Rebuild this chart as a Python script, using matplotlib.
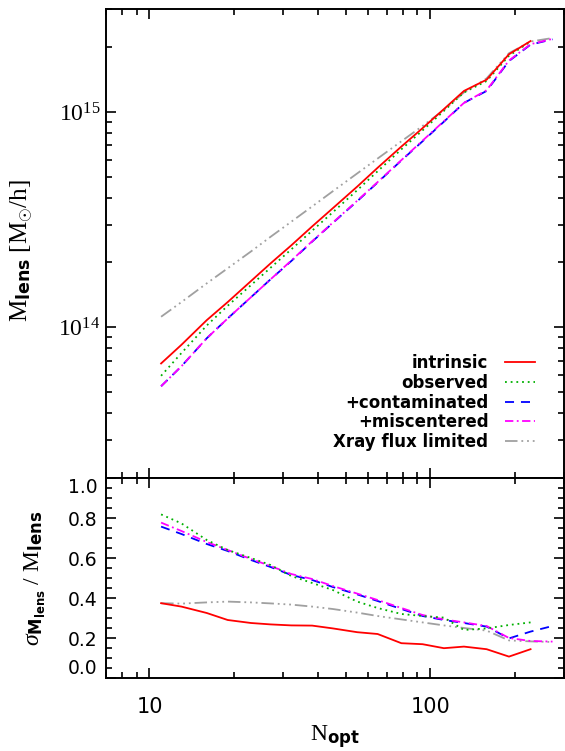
import numpy as np
import matplotlib
matplotlib.use('Agg')
import matplotlib.pyplot as plt
from matplotlib import ticker

# richness bins
n_opt = [11, 13, 16, 19, 23, 27, 32, 38, 45, 55, 65, 79, 94, 112, 132, 159, 191, 228, 273]

# mean lensing mass [Msun/h]
m_intrinsic = [6.8e13, 8.3e13, 1.08e14, 1.31e14, 1.64e14, 1.98e14, 2.4e14, 2.94e14, 3.57e14,
               4.5e14, 5.5e14, 6.9e14, 8.4e14, 1.03e15, 1.25e15, 1.41e15, 1.85e15, 2.13e15]
m_observed = [5.96e13, 7.6e13, 1.02e14, 1.26e14, 1.57e14, 1.89e14, 2.3e14, 2.81e14, 3.42e14,
              4.33e14, 5.3e14, 6.7e14, 8.2e14, 1.01e15, 1.23e15, 1.39e15, 1.82e15, 2.12e15]
m_contam = [5.33e13, 6.6e13, 8.9e13, 1.1e14, 1.38e14, 1.67e14, 2.03e14, 2.5e14, 3.05e14,
            3.85e14, 4.7e14, 5.95e14, 7.3e14, 9.0e14, 1.1e15, 1.25e15, 1.72e15, 2.05e15, 2.17e15]
m_miscen = [5.33e13, 6.6e13, 8.9e13, 1.1e14, 1.38e14, 1.67e14, 2.04e14, 2.51e14, 3.06e14,
            3.87e14, 4.72e14, 5.97e14, 7.35e14, 9.05e14, 1.1e15, 1.26e15, 1.73e15, 2.06e15, 2.18e15]
m_xray = [1.12e14, 1.31e14, 1.6e14, 1.88e14, 2.25e14, 2.63e14, 3.09e14, 3.64e14, 4.28e14,
          5.18e14, 6.07e14, 7.3e14, 8.6e14, 1.02e15, 1.23e15, 1.43e15, 1.87e15, 2.12e15, 2.2e15]

# scatter sigma_M / M
s_intrinsic = [0.374, 0.357, 0.325, 0.29, 0.275, 0.268, 0.263, 0.262, 0.248,
               0.229, 0.22, 0.174, 0.169, 0.149, 0.157, 0.144, 0.107, 0.144]
s_observed = [0.818, 0.773, 0.69, 0.64, 0.6, 0.565, 0.51, 0.475, 0.44,
              0.382, 0.35, 0.32, 0.31, 0.302, 0.24, 0.248, 0.265, 0.278]
s_contam = [0.757, 0.72, 0.67, 0.635, 0.59, 0.555, 0.515, 0.49, 0.455,
            0.418, 0.385, 0.345, 0.31, 0.29, 0.275, 0.257, 0.198, 0.232, 0.26]
s_miscen = [0.777, 0.735, 0.68, 0.64, 0.595, 0.56, 0.52, 0.495, 0.46,
            0.422, 0.39, 0.35, 0.315, 0.293, 0.278, 0.26, 0.2, 0.185, 0.182]
s_xray = [0.374, 0.372, 0.378, 0.382, 0.378, 0.373, 0.367, 0.357, 0.345,
          0.327, 0.31, 0.293, 0.278, 0.263, 0.25, 0.237, 0.188, 0.183, 0.18]

sig_ticks = [0.0, 0.2, 0.4, 0.6, 0.8, 1.0]

plt.rcParams['font.family'] = ['DejaVu Sans']
plt.rcParams['mathtext.fontset'] = 'custom'
plt.rcParams['mathtext.rm'] = 'Liberation Serif'
plt.rcParams['mathtext.it'] = 'Liberation Serif:italic'
plt.rcParams['mathtext.bf'] = 'DejaVu Sans:bold'
plt.rcParams['lines.scale_dashes'] = False

styles = [
    ('intrinsic', '#ff0000', '-', 4),
    ('observed', '#00b000', (0, (1.3, 2.8)), 3),
    ('+contaminated', '#0000ff', (0, (6.5, 5.0)), 2),
    ('+miscentered', '#ff00ff', (0, (6.0, 2.5, 1.3, 2.5)), 2.5),
    ('Xray flux limited', '#a0a0a0', (0, (9.0, 2.8, 1.3, 2.8, 1.3, 2.8, 1.3, 2.8)), 1),
]
masses = [m_intrinsic, m_observed, m_contam, m_miscen, m_xray]
scatters = [s_intrinsic, s_observed, s_contam, s_miscen, s_xray]

fig = plt.figure(figsize=(5.65, 7.51), dpi=100)
ax1 = fig.add_axes([106 / 565, 1 - 478 / 751, 458 / 565, 469 / 751])
ax2 = fig.add_axes([106 / 565, 1 - 678 / 751, 458 / 565, 200 / 751], sharex=ax1)

for (lab, col, ls, z), m, s in zip(styles, masses, scatters):
    ax1.plot(n_opt[:len(m)], m, color=col, ls=ls, lw=1.3, label=lab, zorder=z)
    ax2.plot(n_opt[:len(s)], s, color=col, ls=ls, lw=1.3, zorder=z)

ax1.set_xscale('log')
ax1.set_yscale('log')
ax1.set_xlim(7, 300)
ax1.set_ylim(2e13, 3e15)
ax2.set_ylim(0, 1.0)

for ax in (ax1, ax2):
    for sp in ax.spines.values():
        sp.set_linewidth(1.4)
    ax.tick_params(which='both', direction='in', top=True, right=True, width=1.2)
    ax.tick_params(which='major', length=7)
    ax.tick_params(which='minor', length=4)

ax1.yaxis.set_major_locator(ticker.FixedLocator([1e14, 1e15]))
ax1.yaxis.set_major_formatter(ticker.FuncFormatter(lambda v, p: r'$10^{%d}$' % round(np.log10(v))))
ax1.yaxis.set_minor_formatter(ticker.NullFormatter())
ax1.tick_params(axis='y', labelsize=17, pad=4)
ax1.tick_params(axis='x', labelbottom=False)

ax2.xaxis.set_major_formatter(ticker.FuncFormatter(lambda v, p: '%g' % v))
ax2.xaxis.set_minor_formatter(ticker.NullFormatter())
ax2.tick_params(axis='x', labelsize=15, pad=14)
ax2.yaxis.set_major_locator(ticker.FixedLocator(sig_ticks))
ax2.yaxis.set_minor_locator(ticker.MultipleLocator(0.05))
ax2.yaxis.set_major_formatter(ticker.FormatStrFormatter('%.1f'))
ax2.tick_params(axis='y', labelsize=13.5, pad=6)

fig.canvas.draw()
ylabels = ax2.get_yticklabels()
ylabels[0].set_va('bottom')
ylabels[-1].set_va('top')

ax1.set_ylabel(r'$\mathrm{M}_{\mathbf{lens}}\ [\mathrm{M}_{\odot}/\mathrm{h}]$', fontsize=18)
ax1.yaxis.set_label_coords(-0.155, 0.484)
ax2.set_ylabel(r'$\sigma_{\mathbf{M_{lens}}}\ /\ \mathrm{M}_{\mathbf{lens}}$', fontsize=17)
ax2.yaxis.set_label_coords(-0.127, 0.5)
ax2.set_xlabel(r'$\mathrm{N}_{\mathbf{opt}}$', fontsize=17, labelpad=4)

leg = ax1.legend(loc='lower right', bbox_to_anchor=(0.955, 0.04), markerfirst=False,
                 frameon=False, prop={'weight': 'bold', 'size': 12},
                 handlelength=1.8, handletextpad=1.0, labelspacing=0.1, borderpad=0)

fig.savefig('out.png', dpi=100)
